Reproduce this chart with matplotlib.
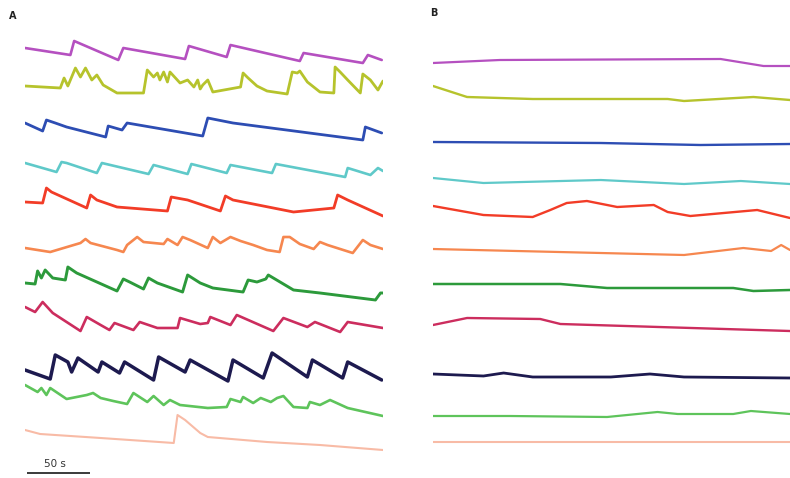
import matplotlib
matplotlib.use("Agg")
import matplotlib.pyplot as plt

# ---------------- data (time in s, fluorescence change in a.u.) ----------------
colors = ["#b550c0", "#b6c32c", "#2d4db3", "#5fc9c9", "#f23c27", "#f6874f",
          "#2c9a3b", "#cc2d5e", "#1d1a4f", "#5ec45b", "#f8bba6"]

# Panel A: spontaneous activity
a_t = [
    [0, 36, 39, 74, 78, 127, 130, 160, 163, 218, 221, 268, 272, 283],
    [0, 28, 31, 34, 40, 44, 48, 53, 57, 62, 73, 94, 97, 102, 105, 107, 110, 113, 115, 123,
     129, 134, 137, 139, 141, 145, 149, 171, 173, 177, 184, 192, 208, 212, 216, 218, 224,
     234, 245, 246, 250, 256, 266, 268, 274, 280, 284],
    [0, 14, 17, 24, 33, 64, 66, 77, 81, 141, 145, 165, 268, 270, 283],
    [0, 25, 29, 33, 57, 61, 98, 102, 129, 132, 160, 163, 196, 199, 254, 256, 274, 280, 284],
    [0, 14, 17, 21, 49, 52, 57, 73, 113, 116, 129, 155, 159, 165, 213, 245, 248, 256, 284],
    [0, 20, 44, 48, 52, 73, 78, 81, 89, 94, 110, 113, 121, 125, 131, 145, 149, 155, 163, 171,
     181, 192, 202, 205, 210, 218, 229, 234, 240, 260, 268, 274, 284],
    [0, 8, 10, 13, 16, 22, 32, 34, 41, 73, 78, 83, 94, 98, 105, 125, 129, 139, 149, 173, 177,
     184, 191, 193, 213, 234, 278, 282, 284],
    [0, 8, 14, 22, 44, 49, 60, 67, 71, 86, 91, 105, 121, 123, 139, 145, 147, 163, 168, 197,
     205, 224, 230, 250, 256, 284],
    [0, 20, 24, 34, 37, 42, 58, 61, 75, 79, 102, 106, 127, 131, 161, 165, 189, 196, 224, 228,
     252, 256, 283],
    [0, 10, 13, 17, 20, 33, 49, 54, 60, 70, 81, 86, 97, 102, 110, 115, 123, 145, 160, 163,
     171, 173, 181, 187, 195, 200, 205, 213, 224, 226, 234, 242, 256, 284],
    [0, 12, 60, 118, 121, 127, 139, 145, 192, 234, 284],
]
a_v = [
    [0, -7, 7, -12, 0, -11, 2, -9, 3, -13, -5, -15, -7, -12],
    [0, -2, 8, 0, 18, 9, 18, 6, 11, 1, -7, -7, 16, 9, 13, 6, 14, 4, 14, 3, 6, -1, 6, -3, 1, 6,
     -6, -1, 13, 8, 0, -5, -8, 14, 13, 15, 4, -6, -7, 19, 14, 6, -7, 12, 6, -4, 5],
    [0, -8, 3, 0, -4, -14, -3, -7, 0, -13, 5, 0, -17, -4, -10],
    [0, -9, 1, 0, -10, 0, -11, -2, -11, -1, -10, -2, -10, -1, -14, -5, -12, -5, -8],
    [0, -1, 14, 10, -6, 7, 2, -5, -9, 5, 2, -9, 6, 2, -10, -6, 7, 2, -14],
    [0, -4, 5, 9, 5, -2, -4, 3, 11, 6, 4, 9, 3, 11, 8, 0, 11, 5, 11, 7, 3, -2, -4, 11, 11, 4,
     -1, 6, 3, -5, 8, 3, -1],
    [0, -1, 12, 5, 13, 5, 3, 16, 10, -8, 4, 1, -6, 5, 0, -9, 8, 0, -5, -9, 3, 1, 4, 8, -7,
     -10, -17, -10, -10],
    [0, -5, 5, -6, -24, -10, -18, -23, -16, -23, -15, -21, -21, -11, -17, -16, -10, -18, -8,
     -24, -11, -20, -15, -25, -15, -21],
    [0, -9, 15, 8, -2, 12, -2, 8, -3, 8, -10, 13, -2, 10, -11, 10, -8, 17, -7, 10, -8, 8, -10],
    [0, -7, -3, -10, -3, -14, -10, -8, -13, -16, -19, -8, -17, -11, -20, -15, -20, -23, -22,
     -14, -17, -12, -18, -13, -17, -13, -11, -22, -23, -17, -20, -15, -23, -31],
    [0, -4, -8, -13, 15, 10, -3, -7, -12, -15, -20],
]

# Panel B: after treatment
b_t = [
    [0, 53, 228, 262, 283],
    [0, 27, 79, 186, 199, 254, 283],
    [0, 133, 212, 283],
    [0, 40, 133, 199, 244, 283],
    [0, 40, 79, 93, 106, 122, 146, 175, 186, 204, 257, 283],
    [0, 133, 199, 246, 268, 276, 283],
    [0, 101, 138, 238, 254, 283],
    [0, 27, 85, 101, 283],
    [0, 40, 56, 79, 141, 172, 199, 283],
    [0, 61, 138, 178, 194, 238, 252, 283],
    [0, 283],
]
b_v = [
    [0, 3, 4, -3, -3],
    [0, -11, -13, -13, -15, -11, -14],
    [0, -1, -3, -2],
    [0, -5, -2, -6, -3, -6],
    [0, -9, -11, -4, 3, 5, -1, 1, -6, -10, -4, -12],
    [0, -4, -6, 1, -2, 4, -1],
    [0, 0, -4, -4, -7, -6],
    [0, 7, 6, 1, -6],
    [0, -2, 1, -3, -3, 0, -3, -4],
    [0, 0, -1, 4, 2, 2, 5, 2],
    [0, 0],
]

scale_bar_s = 50
scale_label = "50 s"

# ---------------- layout ----------------
W, H = 790, 478
a_offsets = [48, 86, 123, 163, 202, 248, 283, 307, 370, 385, 430]
b_offsets = [63, 86, 142, 178, 206, 249, 284, 325, 374, 416, 442]
a_widths = [1.9, 2.0, 2.0, 1.9, 2.0, 1.9, 2.1, 1.9, 2.5, 1.9, 1.5]
b_widths = [1.6, 1.7, 1.7, 1.6, 1.7, 1.6, 1.8, 1.7, 2.0, 1.6, 1.5]

fig = plt.figure(figsize=(W / 100, H / 100), dpi=100)
fig.patch.set_facecolor("white")

axA = fig.add_axes([25 / W, 0, 358 / W, 1])
axB = fig.add_axes([433 / W, 0, 357 / W, 1])

for ax, ts, vs, offs, xmax, lws in [(axA, a_t, a_v, a_offsets, 284, a_widths),
                                    (axB, b_t, b_v, b_offsets, 283, b_widths)]:
    for i, (t, v) in enumerate(zip(ts, vs)):
        y = [val - offs[i] for val in v]
        ax.plot(t, y, color=colors[i], lw=lws[i],
                solid_joinstyle="round", solid_capstyle="round")
    ax.set_xlim(0, xmax)
    ax.set_ylim(-H, 0)
    ax.axis("off")

# scale bar
axA.plot([1.5, 1.5 + scale_bar_s], [-473, -473], color="#3a3a3a", lw=1.4,
         clip_on=False, solid_capstyle="butt")
axA.text(24, -464, scale_label, ha="center", va="center", fontsize=7.5,
         color="#333333")

fig.text(13 / W, 1 - 16 / H, "A", fontsize=7, fontweight="bold", ha="center",
         va="center", color="#222222")
fig.text(434 / W, 1 - 13 / H, "B", fontsize=7, fontweight="bold", ha="center",
         va="center", color="#222222")

fig.savefig("out.png", dpi=100, facecolor="white")
